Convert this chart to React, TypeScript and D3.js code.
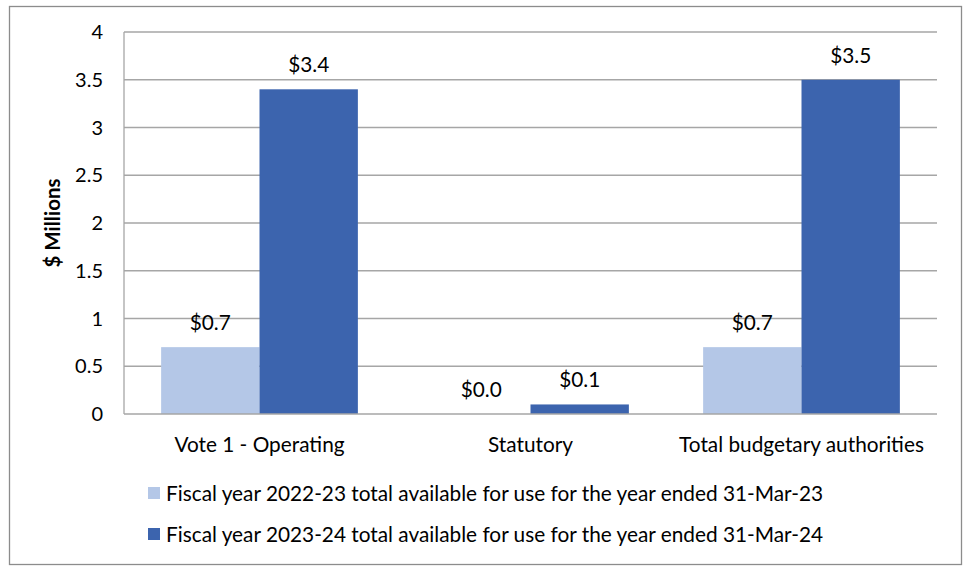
import * as d3 from 'd3';

const CATEGORIES = ['Vote 1 - Operating', 'Statutory', 'Total budgetary authorities'];
const FY2023 = [0.7, 0.0, 0.7];
const FY2024 = [3.4, 0.1, 3.5];
const SERIES_NAMES = [
  'Fiscal year 2022-23 total available for use for the year ended 31-Mar-23',
  'Fiscal year 2023-24 total available for use for the year ended 31-Mar-24',
];
const Y_TICKS = [0, 0.5, 1, 1.5, 2, 2.5, 3, 3.5, 4];

const COLORS = ['#B4C7E7', '#3C64AE'];
const FONT = 'Lato, Carlito, "Open Sans", sans-serif';
const W = 968;
const H = 568;
const PLOT = { left: 124, right: 937, top: 32, bottom: 414 };
const FS = 20.8;

export default function App() {
  const x = d3.scaleBand().domain(CATEGORIES).range([PLOT.left, PLOT.right]).paddingInner(0.274).paddingOuter(0.137);
  const inner = d3.scaleBand().domain(['a', 'b']).range([0, x.bandwidth()]);
  const y = d3.scaleLinear().domain([0, 4]).range([PLOT.bottom, PLOT.top]);
  const series = [FY2023, FY2024];
  const fmt = (v: number) => '$' + v.toFixed(1);

  return (
    <svg width={W} height={H} style={{ position: 'absolute', left: 0, top: 0, background: '#fff' }} fontFamily={FONT}>
      <rect x={9.5} y={6.5} width={952} height={558} fill="#fff" stroke="#8c8c8c" strokeWidth={1.3} />

      {/* grid */}
      {Y_TICKS.map((t) => (
        <g key={t}>
          {t > 0 && (
            <line x1={PLOT.left} x2={PLOT.right} y1={y(t)} y2={y(t)} stroke="#a6a6a6" strokeWidth={1.3} />
          )}
          <text x={103} y={y(t)} dy="0.36em" textAnchor="end" fontSize={20} fill="#000">
            {t}
          </text>
        </g>
      ))}

      {/* bars */}
      {CATEGORIES.map((c, i) =>
        series.map((s, j) => {
          const bx = (x(c) ?? 0) + (inner(j === 0 ? 'a' : 'b') ?? 0);
          const bw = inner.bandwidth();
          return (
            <g key={c + j}>
              <rect x={bx} y={y(s[i])} width={bw} height={PLOT.bottom - y(s[i])} fill={COLORS[j]} />
              <text x={bx + bw / 2} y={y(s[i]) - 17} textAnchor="middle" fontSize={FS} fill="#000">
                {fmt(s[i])}
              </text>
            </g>
          );
        })
      )}

      {/* axes */}
      <line x1={PLOT.left} x2={PLOT.left} y1={PLOT.top} y2={PLOT.bottom} stroke="#a6a6a6" strokeWidth={1.3} />
      <line x1={PLOT.left} x2={PLOT.right} y1={PLOT.bottom} y2={PLOT.bottom} stroke="#a6a6a6" strokeWidth={1.3} />

      {CATEGORIES.map((c) => (
        <text key={c} x={(x(c) ?? 0) + x.bandwidth() / 2} y={452} textAnchor="middle" fontSize={FS} fill="#000">
          {c}
        </text>
      ))}

      <text
        transform={`translate(60,${(PLOT.top + PLOT.bottom) / 2}) rotate(-90)`}
        textAnchor="middle"
        fontSize={20.5}
        fontWeight="bold"
        fill="#000"
      >
        $ Millions
      </text>

      {/* legend */}
      {SERIES_NAMES.map((n, j) => (
        <g key={n} transform={`translate(148,${493 + j * 41})`}>
          <rect x={0} y={-6} width={12} height={12} fill={COLORS[j]} />
          <text x={18} y={0} dy="0.36em" fontSize={FS} fill="#000">
            {n}
          </text>
        </g>
      ))}
    </svg>
  );
}
